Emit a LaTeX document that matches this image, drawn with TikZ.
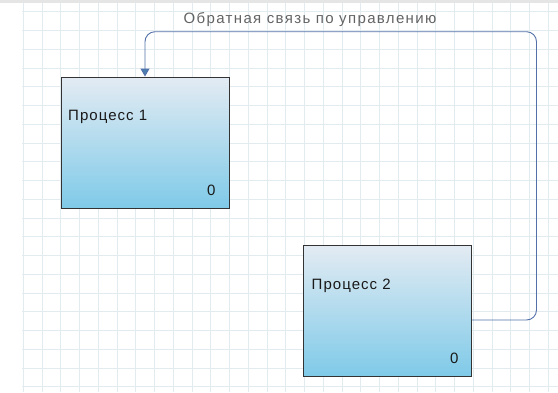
\documentclass[tikz,border=0pt]{standalone}
\usepackage{fontspec}
\setmainfont{Liberation Sans}
\usetikzlibrary{arrows.meta,positioning,calc}

\definecolor{gridcol}{HTML}{E1EBF0}
\definecolor{linkcol}{HTML}{5470A8}
\definecolor{boxtop}{HTML}{E3EBF3}
\definecolor{boxbot}{HTML}{7FCAE8}
\definecolor{capcol}{HTML}{636363}

\tikzset{
  procbox/.style={draw=black!80,line width=0.9pt,top color=boxtop,bottom color=boxbot,
    minimum width=168pt,minimum height=131pt,inner sep=0pt},
  proclabel/.style={anchor=base west,font=\fontsize{15}{17}\selectfont\addfontfeature{LetterSpace=7},
    text=black!90,inner sep=0pt},
  feedback/.style={draw=linkcol,line width=0.9pt,rounded corners=10pt,
    -{Triangle[width=9pt,length=8pt,fill=linkcol!90!cyan]}}
}

\begin{document}
\begin{tikzpicture}[x=1pt,y=-1pt]
    \useasboundingbox (0,0) rectangle (558,392);
    % \draw[help lines] grid
    \fill[black!10] (0,0) rectangle (558,2.5);
    \foreach \gx in {0,...,28} {
      \draw[gridcol,line width=0.7pt] ({23.3+18.75*\gx},2.5) -- ({23.3+18.75*\gx},392);
    }
    \foreach \gy in {0,...,20} {
      \draw[gridcol,line width=0.7pt] (22,{11.7+18.75*\gy}) -- (558,{11.7+18.75*\gy});
    }
    \node[procbox] (p1) at (145,142.5) {};
    \node[procbox] (p2) at (387.5,310.5) {};
    \node[proclabel] (n1) at (68,120.7) {Процесс 1};
    \node[proclabel] (z1) at (207,195) {0};
    \node[proclabel] (n2) at (311.5,289) {Процесс 2};
    \node[proclabel] (z2) at (450,363) {0};
    \coordinate (out2) at (p2.east |- 0,320);
    \draw[feedback] (out2) -- (536.5,320) -- (536.5,31.7) -- (145,31.7) -- (p1.north);
    \node[anchor=base,inner sep=0pt,text=capcol,
      font=\fontsize{15}{17}\selectfont\addfontfeature{LetterSpace=9}] (fb) at (310,23.5)
      {Обратная связь по управлению};
\end{tikzpicture}
\end{document}
